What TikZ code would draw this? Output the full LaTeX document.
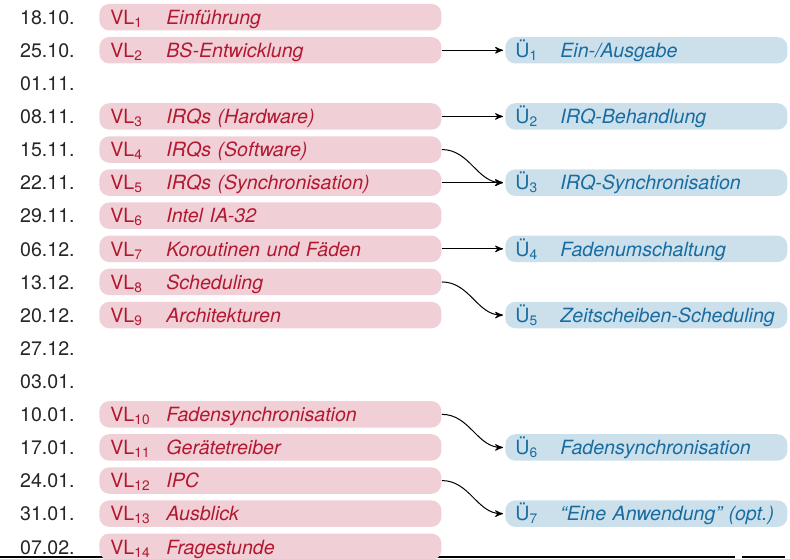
\documentclass[tikz,border=0pt]{standalone}
\usepackage{fontspec}
\setmainfont{TeX Gyre Heros}
\usetikzlibrary{arrows}
\definecolor{vlfill}{RGB}{240,208,214}
\definecolor{vltext}{RGB}{178,24,48}
\definecolor{uefill}{RGB}{204,224,236}
\definecolor{uetext}{RGB}{24,108,160}
\newcommand{\vltitle}[2]{\makebox[28pt][l]{VL\textsubscript{#1}}\textit{#2}}
\newcommand{\uetitle}[2]{\makebox[22.5pt][l]{Ü\textsubscript{#1}}\textit{#2}}

\begin{document}
\begin{tikzpicture}[
    >=stealth',
    x=0.5pt, y=-16.55pt,
    font=\fontsize{9.8}{11}\selectfont,
    date/.style = {anchor=base east, inner sep=0pt, text=black!85},
    vlbox/.style = {
      anchor = base west,
      fill = vlfill,
      text = vltext,
      rounded corners = 5pt,
      inner xsep = 5.5pt,
      inner ysep = 0pt,
      text width = 160pt,
      text height = 10.25pt,
      text depth = 3pt
    },
    uebox/.style = {
      vlbox,
      fill = uefill,
      text = uetext,
      inner xsep = 5pt,
      text width = 131pt
    },
    link/.style = {->, line width=0.5pt, shorten >=1pt}
  ]
  \useasboundingbox (0,-0.737) rectangle (790,16.151);
  % bottom rule
  \draw[line width=0.8pt] (0,16.09) coordinate (rl) -- (735,16.09) coordinate (rm);
  \draw[line width=0.8pt] (742,16.09) coordinate (rn) -- (785,16.09) coordinate (rr);
  % dates
  \node[date] (d0)  at (75,0)  {18.10.};
  \node[date] (d1)  at (75,1)  {25.10.};
  \node[date] (d2)  at (75,2)  {01.11.};
  \node[date] (d3)  at (75,3)  {08.11.};
  \node[date] (d4)  at (75,4)  {15.11.};
  \node[date] (d5)  at (75,5)  {22.11.};
  \node[date] (d6)  at (75,6)  {29.11.};
  \node[date] (d7)  at (75,7)  {06.12.};
  \node[date] (d8)  at (75,8)  {13.12.};
  \node[date] (d9)  at (75,9)  {20.12.};
  \node[date] (d10) at (75,10) {27.12.};
  \node[date] (d11) at (75,11) {03.01.};
  \node[date] (d12) at (75,12) {10.01.};
  \node[date] (d13) at (75,13) {17.01.};
  \node[date] (d14) at (75,14) {24.01.};
  \node[date] (d15) at (75,15) {31.01.};
  \node[date] (d16) at (75,16) {07.02.};
  % lectures
  \node[vlbox] (vl1)  at (99,0)  {\vltitle{1}{Einführung}};
  \node[vlbox] (vl2)  at (99,1)  {\vltitle{2}{BS-Entwicklung}};
  \node[vlbox] (vl3)  at (99,3)  {\vltitle{3}{IRQs (Hardware)}};
  \node[vlbox] (vl4)  at (99,4)  {\vltitle{4}{IRQs (Software)}};
  \node[vlbox] (vl5)  at (99,5)  {\vltitle{5}{IRQs (Synchronisation)}};
  \node[vlbox] (vl6)  at (99,6)  {\vltitle{6}{Intel IA-32}};
  \node[vlbox] (vl7)  at (99,7)  {\vltitle{7}{Koroutinen und Fäden}};
  \node[vlbox] (vl8)  at (99,8)  {\vltitle{8}{Scheduling}};
  \node[vlbox] (vl9)  at (99,9)  {\vltitle{9}{Architekturen}};
  \node[vlbox] (vl10) at (99,12) {\vltitle{10}{Fadensynchronisation}};
  \node[vlbox] (vl11) at (99,13) {\vltitle{11}{Gerätetreiber}};
  \node[vlbox] (vl12) at (99,14) {\vltitle{12}{IPC}};
  \node[vlbox] (vl13) at (99,15) {\vltitle{13}{Ausblick}};
  \node[vlbox] (vl14) at (99,16) {\vltitle{14}{Fragestunde}};
  % exercises
  \node[uebox] (ue1) at (505,1)  {\uetitle{1}{Ein-/Ausgabe}};
  \node[uebox] (ue2) at (505,3)  {\uetitle{2}{IRQ-Behandlung}};
  \node[uebox] (ue3) at (505,5)  {\uetitle{3}{IRQ-Synchronisation}};
  \node[uebox] (ue4) at (505,7)  {\uetitle{4}{Fadenumschaltung}};
  \node[uebox] (ue5) at (505,9)  {\uetitle{5}{Zeitscheiben-Scheduling}};
  \node[uebox] (ue6) at (505,13) {\uetitle{6}{Fadensynchronisation}};
  \node[uebox] (ue7) at (505,15) {\uetitle{7}{``Eine Anwendung'' (opt.)}};
  % links
  \draw[link] (vl2.east) -- (ue1.west);
  \draw[link] (vl3.east) -- (ue2.west);
  \draw[link] (vl4.east) to[out=0, in=180] (ue3.west);
  \draw[link] (vl5.east) -- (ue3.west);
  \draw[link] (vl7.east) -- (ue4.west);
  \draw[link] (vl8.east) to[out=0, in=180] (ue5.west);
  \draw[link] (vl10.east) to[out=0, in=180] (ue6.west);
  \draw[link] (vl12.east) to[out=0, in=180] (ue7.west);
\end{tikzpicture}
\end{document}
